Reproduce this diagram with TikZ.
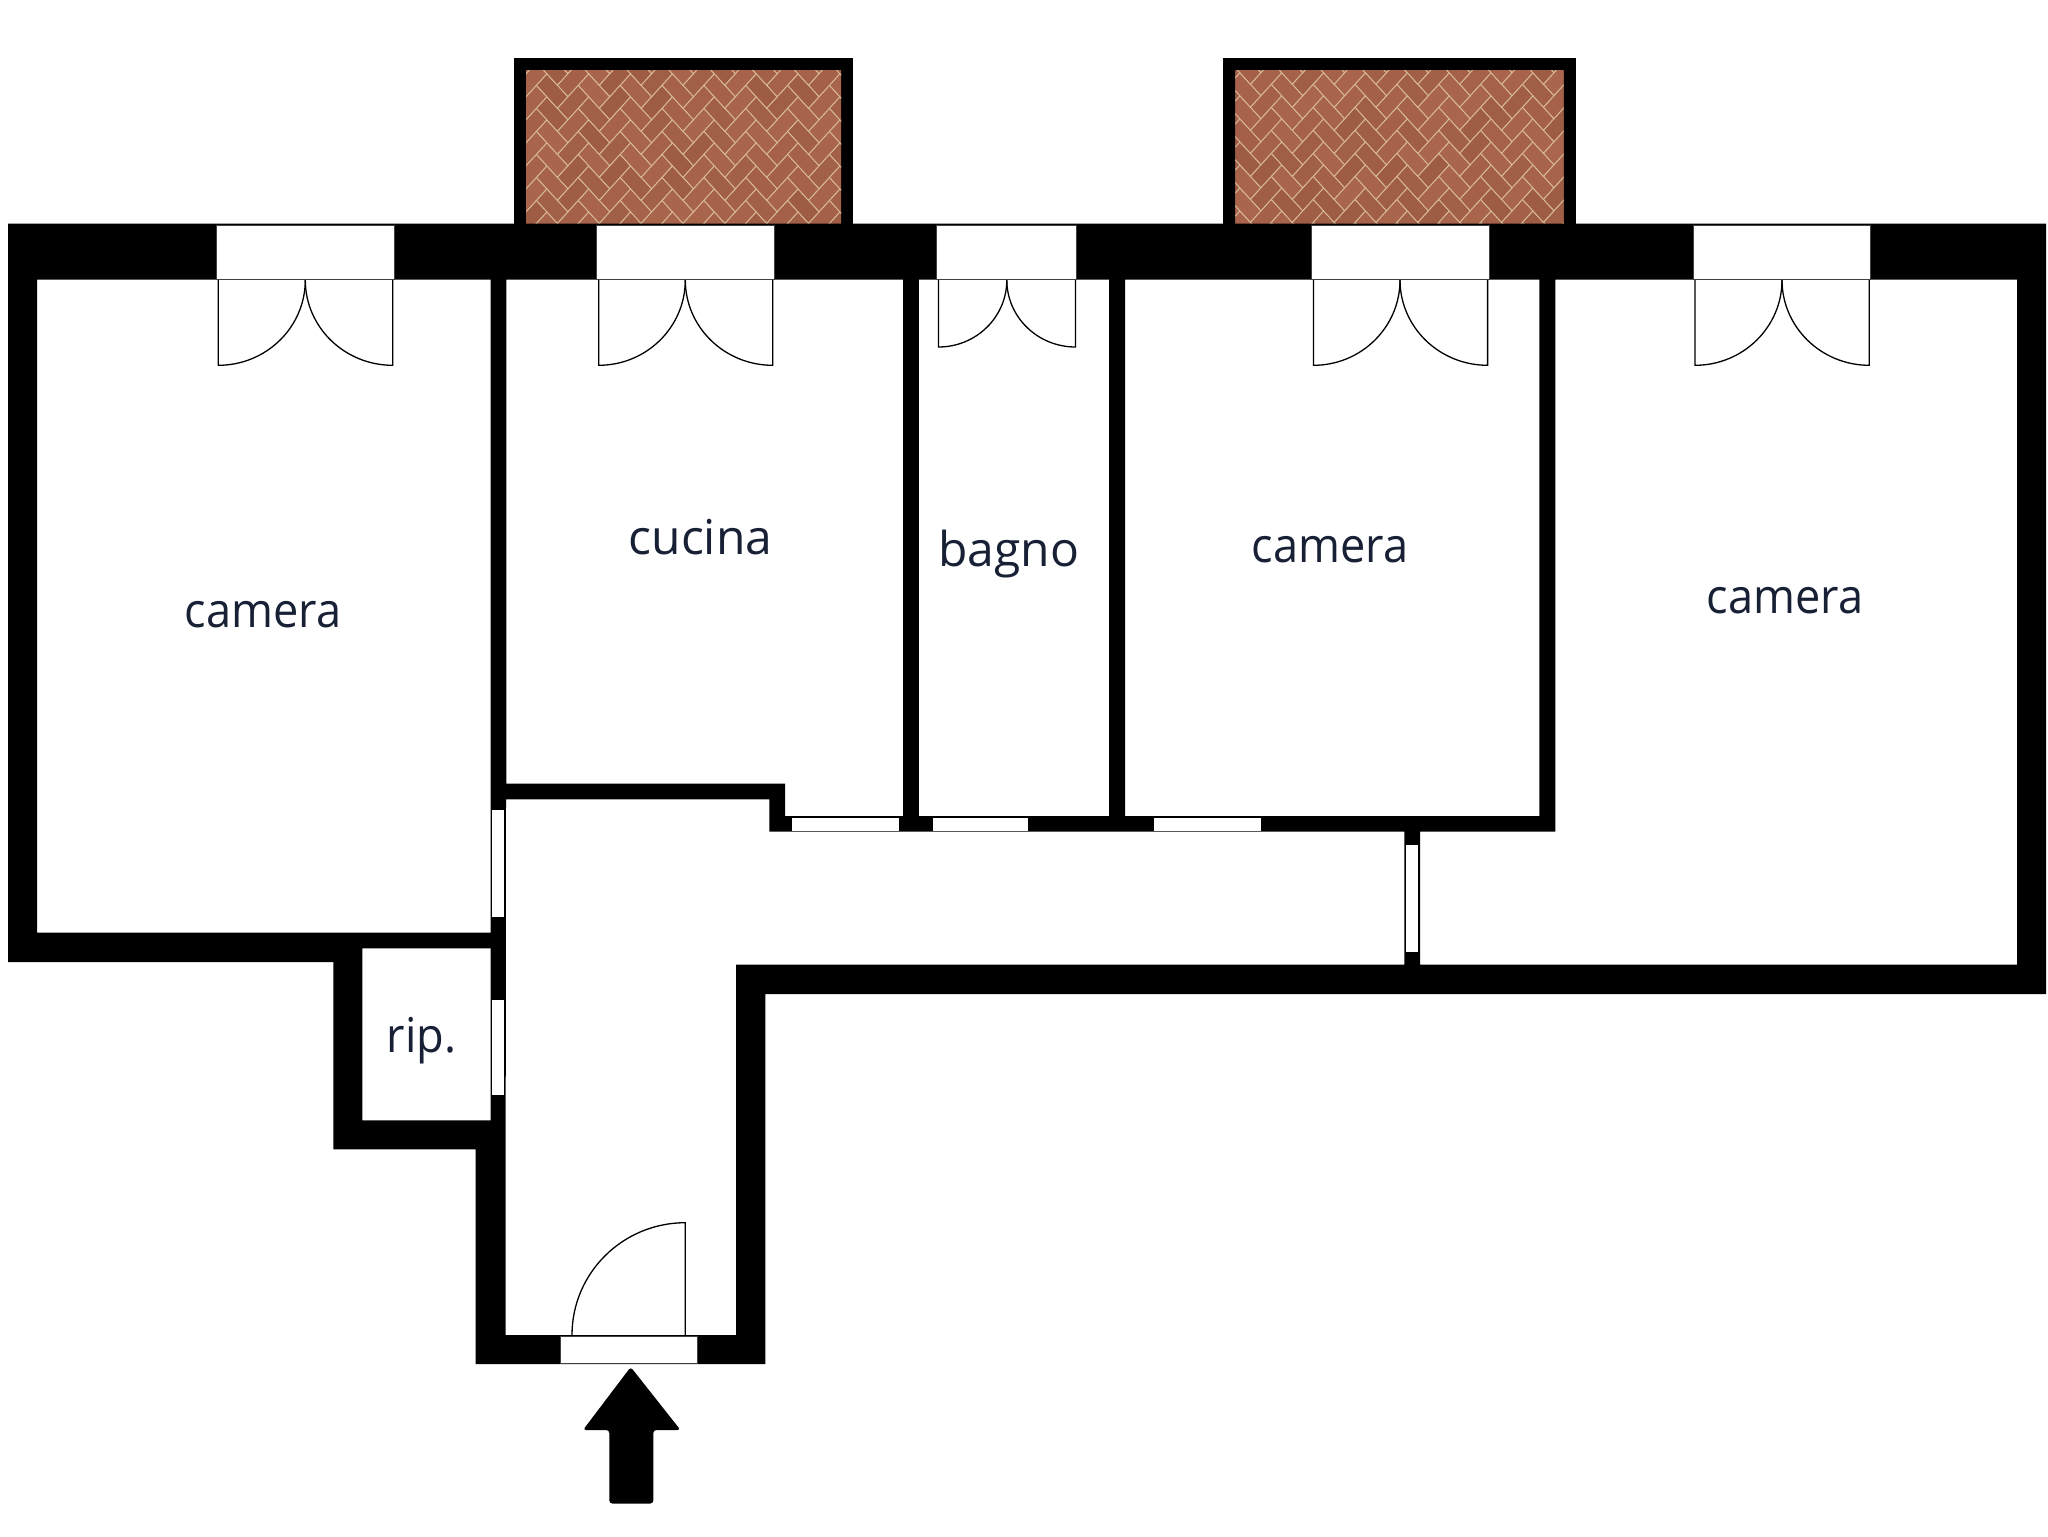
\documentclass[tikz,border=0pt]{standalone}
\usepackage{fontspec}
\setmainfont{Open Sans}
\newfontfamily\labelfont[FakeStretch=0.94]{Open Sans}
\newfontfamily\labelwide{Open Sans}
\definecolor{inkc}{RGB}{24,32,54}
\definecolor{groutc}{RGB}{216,186,152}
\definecolor{brk0}{RGB}{168,100,74}
\tikzset{
  x=0.5pt,y=-0.5pt,
  wallfill/.style={fill=black},
  winbox/.style={fill=white,draw=black!75,line width=0.45pt},
  doorline/.style={draw=black,line width=0.65pt,line join=miter},
  roomlabel/.style={text=inkc,font=\labelfont\fontsize{24}{28}\selectfont,anchor=base,inner sep=0pt},
  widelabel/.style={roomlabel,font=\labelwide\fontsize{24}{28}\selectfont},
}
\newcommand\doorleaf[4]{%
  \pgfmathsetmacro\ca{#1+0.552*(#2-#1)}%
  \pgfmathsetmacro\cb{#3+0.552*(#4-#3)}%
  \draw[doorline] (#2,#3) .. controls (#2,\cb) and (\ca,#4) .. (#1,#4) -- (#1,#3);}
\newcommand\brick[4]{%
  \pgfmathrandominteger\tt{0}{12}%
  \pgfmathtruncatemacro\rr{158+\tt}%
  \pgfmathtruncatemacro\gg{92+0.8*\tt}%
  \pgfmathtruncatemacro\bb{68+0.8*\tt}%
  \definecolor{brk}{RGB}{\rr,\gg,\bb}%
  \filldraw[fill=brk,draw=groutc,line width=0.45pt] (#1,#2) rectangle ++(#3,#4);}
% #1..#4 clip box, #5 #6 pattern origin
\newcommand\herring[6]{%
  \begin{scope}
    \clip (#1,#2) rectangle (#3,#4);
    \fill[brk0] (#1,#2) rectangle (#3,#4);
    \begin{scope}[shift={(#5,#6)},yscale=1.1,rotate=45,x=7.4pt,y=7.4pt]
      \foreach \k in {-24,...,24}{
        \foreach \m in {-7,...,7}{
          \pgfmathtruncatemacro\px{\k+4*\m}%
          \pgfmathtruncatemacro\qx{\k+4*\m+2}%
          \pgfmathtruncatemacro\qy{\k-1}%
          \brick{\px}{\k}{2}{1}
          \brick{\qx}{\qy}{1}{2}
        }}
    \end{scope}
  \end{scope}}
\begin{document}
\begin{tikzpicture}
\pgfmathsetseed{4711}
\useasboundingbox (0,0) rectangle (2048,1536);
\fill[white] (0,0) rectangle (2048,1536);

% balconies
\fill[wallfill] (514,58) rectangle (853,224);
\fill[wallfill] (1223,58) rectangle (1576,224);
\herring{526}{71}{841}{223.7}{567.8}{142.8}
\herring{1235.4}{71}{1563.5}{223.7}{1260.8}{141.8}

% walls with the rooms cut out
\fill[black,even odd rule]
  (8,223.7) -- (2046,223.7) -- (2046,994) -- (765.3,994) -- (765.3,1364)
  -- (475.7,1364) -- (475.7,1149.3) -- (333.3,1149.3) -- (333.3,962) -- (8,962) -- cycle
  (37,279.7) rectangle (490.7,932.7)
  (506.3,279.7) -- (903.2,279.7) -- (903.2,816) -- (785,816) -- (785,783.7) -- (506.3,783.7) -- cycle
  (918.8,279.7) rectangle (1109,816)
  (1125,279.7) rectangle (1539.4,816)
  (1555.3,279.7) -- (2017,279.7) -- (2017,964.7) -- (1420,964.7) -- (1420,831.7) -- (1555.3,831.7) -- cycle
  (506,799.3) -- (769.3,799.3) -- (769.3,831.7) -- (1404.3,831.7) -- (1404.3,964.7)
  -- (736,964.7) -- (736,1335) -- (505.5,1335) -- cycle
  (362.3,948.3) rectangle (490.7,1120.3);

% top windows
\draw[winbox] (216.7,225) rectangle (394.7,279);
\draw[winbox] (596.7,225) rectangle (774.3,279);
\draw[winbox] (936.7,225) rectangle (1076.4,279);
\draw[winbox] (1311.2,225) rectangle (1489,279);
\draw[winbox] (1693,225) rectangle (1870.7,279);
% inner windows
\fill[white] (792,817.5) rectangle (899,830.5);
\fill[white] (932.9,817.5) rectangle (1028,830.5);
\fill[white] (1154,817.5) rectangle (1261,830.5);
\fill[white] (492,810) rectangle (504.3,917);
\fill[white] (492,1000.3) rectangle (504.3,1095);
\fill[white] (1406,845) rectangle (1418,952);
% entrance window
\draw[winbox] (560,1336) rectangle (697,1363);

% doors
\doorleaf{218.3}{305.3}{280}{365.3}
\doorleaf{392.7}{305.3}{280}{365.3}
\doorleaf{598.7}{685.3}{280}{365.3}
\doorleaf{772.7}{685.3}{280}{365.3}
\doorleaf{938.5}{1006.8}{280}{347}
\doorleaf{1075.5}{1006.8}{280}{347}
\doorleaf{1313.5}{1400}{280}{365.3}
\doorleaf{1487.6}{1400}{280}{365.3}
\doorleaf{1695}{1782}{280}{365.3}
\doorleaf{1869.3}{1782}{280}{365.3}
\doorleaf{685.3}{572}{1335}{1222.7}

% entrance arrow
\fill[black,rounded corners=1.5pt] (630.7,1367) -- (680.5,1430) -- (653.3,1430) -- (653.3,1503.5)
  -- (609.3,1503.5) -- (609.3,1430) -- (583,1430) -- cycle;

% labels
\node[roomlabel] (camA) at (263,627.3) {camera};
\node[widelabel] (cuc) at (700.5,554.5) {cucina};
\node[widelabel] (bag) at (1008.7,566.7) {bagno};
\node[roomlabel] (camB) at (1330,562.3) {camera};
\node[roomlabel] (camC) at (1785,613) {camera};
\node[roomlabel] (rip) at (421.7,1052.3) {rip.};
\end{tikzpicture}
\end{document}
